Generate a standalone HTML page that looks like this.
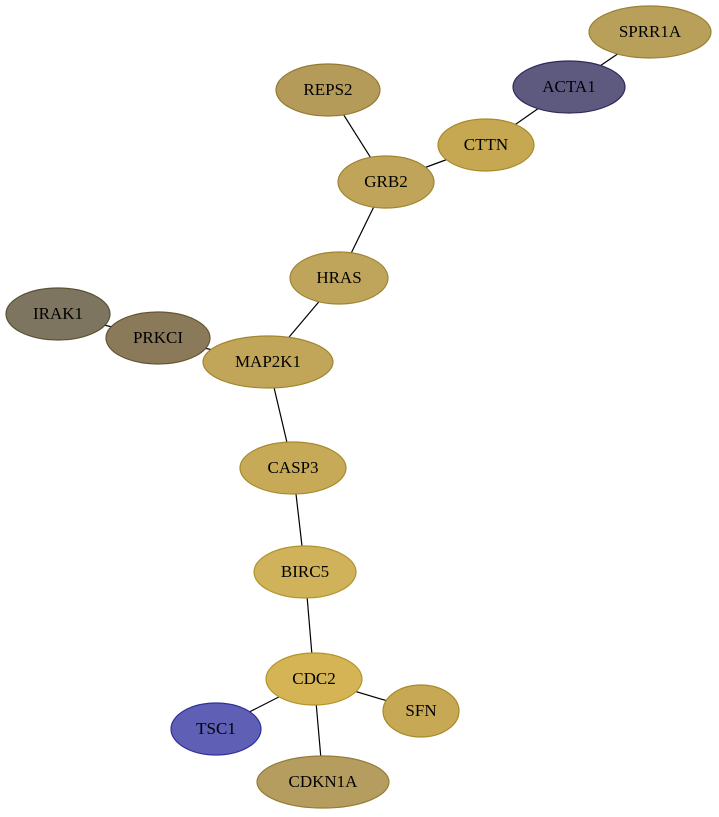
<!DOCTYPE html>
<html><head><meta charset="utf-8"><style>html,body{margin:0;padding:0;background:#fff}svg{display:block}</style></head>
<body>
<svg width="719" height="817" viewBox="0 0 719 817" xmlns="http://www.w3.org/2000/svg" font-family="Liberation Serif, serif" font-size="17">
<g stroke="#000" stroke-width="1.2">
<line x1="650" y1="32" x2="569" y2="87"/>
<line x1="569" y1="87" x2="486" y2="145"/>
<line x1="486" y1="145" x2="386" y2="182"/>
<line x1="328" y1="90" x2="386" y2="182"/>
<line x1="386" y1="182" x2="339" y2="278"/>
<line x1="339" y1="278" x2="268" y2="362"/>
<line x1="58" y1="314" x2="158" y2="338"/>
<line x1="158" y1="338" x2="268" y2="362"/>
<line x1="268" y1="362" x2="293" y2="468"/>
<line x1="293" y1="468" x2="305" y2="572"/>
<line x1="305" y1="572" x2="314" y2="679"/>
<line x1="314" y1="679" x2="421" y2="711"/>
<line x1="314" y1="679" x2="216" y2="729"/>
<line x1="314" y1="679" x2="323" y2="782"/>
</g>
<g stroke-width="1.2" text-anchor="middle">
<ellipse cx="650" cy="32" rx="61" ry="26" fill="#b9a05a" stroke="#9a8030"/><text x="650" y="37">SPRR1A</text>
<ellipse cx="569" cy="87" rx="56" ry="26" fill="#5e5a7f" stroke="#2e2a5a"/><text x="569" y="92">ACTA1</text>
<ellipse cx="328" cy="90" rx="52" ry="26" fill="#b49b5a" stroke="#947a30"/><text x="328" y="95">REPS2</text>
<ellipse cx="486" cy="145" rx="48" ry="26" fill="#c6a852" stroke="#a88a28"/><text x="486" y="150">CTTN</text>
<ellipse cx="386" cy="182" rx="48" ry="26" fill="#bfa45a" stroke="#9f8430"/><text x="386" y="187">GRB2</text>
<ellipse cx="339" cy="278" rx="49" ry="26" fill="#bfa55c" stroke="#9f8530"/><text x="339" y="283">HRAS</text>
<ellipse cx="58" cy="314" rx="52" ry="26" fill="#7e7560" stroke="#5a5035"/><text x="58" y="319">IRAK1</text>
<ellipse cx="158" cy="338" rx="52" ry="26" fill="#8a7a5a" stroke="#665530"/><text x="158" y="343">PRKCI</text>
<ellipse cx="268" cy="362" rx="65" ry="26" fill="#c1a65a" stroke="#a18630"/><text x="268" y="367">MAP2K1</text>
<ellipse cx="293" cy="468" rx="53" ry="26" fill="#c6aa58" stroke="#a88a2c"/><text x="293" y="473">CASP3</text>
<ellipse cx="305" cy="572" rx="51" ry="26" fill="#d0b25a" stroke="#b0922c"/><text x="305" y="577">BIRC5</text>
<ellipse cx="314" cy="679" rx="48" ry="26" fill="#d4b455" stroke="#b49428"/><text x="314" y="684">CDC2</text>
<ellipse cx="421" cy="711" rx="38" ry="26" fill="#c6a855" stroke="#a88a28"/><text x="421" y="716">SFN</text>
<ellipse cx="216" cy="729" rx="45" ry="26" fill="#5f5fb5" stroke="#30309a"/><text x="216" y="734">TSC1</text>
<ellipse cx="323" cy="782" rx="66" ry="26" fill="#b49d5e" stroke="#947d35"/><text x="323" y="787">CDKN1A</text>
</g>
</svg>
</body></html>
